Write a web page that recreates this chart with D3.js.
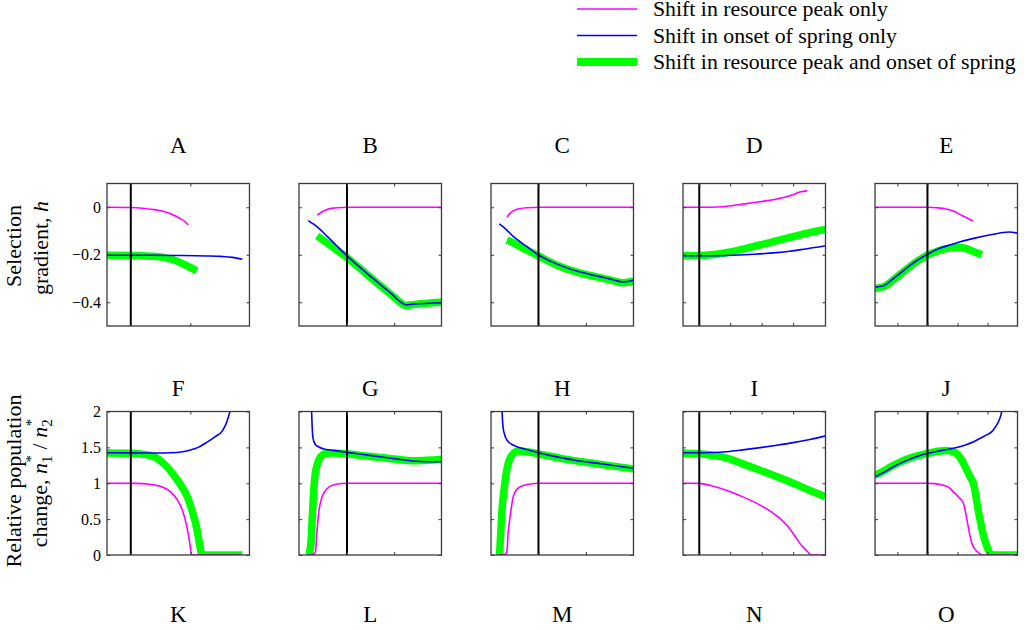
<!DOCTYPE html>
<html>
<head>
<meta charset="utf-8">
<script src="https://cdn.jsdelivr.net/npm/d3@7"></script>
<style>
  html, body { margin: 0; padding: 0; background: #fff; }
  svg { display: block; font-family: "Liberation Serif", "Times New Roman", serif; }
</style>
</head>
<body>
<svg id="chart" width="1024" height="630"></svg>
<script>
// ---------------- DATA ----------------
const titlesRow1 = ["A", "B", "C", "D", "E"];
const titlesRow2 = ["F", "G", "H", "I", "J"];
const titlesRow3 = ["K", "L", "M", "N", "O"];

const seriesNames = [
  "Shift in resource peak only",
  "Shift in onset of spring only",
  "Shift in resource peak and onset of spring"
];

// x is a normalised parameter (0..1) along each column's horizontal axis
const colXTicks = [
  [0.167, 0.585],
  [0.337, 0.668],
  [0.333, 0.666],
  [0.114, 0.331, 0.552, 0.773],
  [0.157, 0.368, 0.579, 0.79]
];
const colVLine = [0.167, 0.337, 0.333, 0.114, 0.368];

const yTicksRow1 = [-0.4, -0.2, 0];
const yTickLabelsRow1 = ["\u22120.4", "\u22120.2", "0"];
const yDomainRow1 = [-0.5, 0.1];
const yTicksRow2 = [0, 0.5, 1, 1.5, 2];
const yTickLabelsRow2 = ["0", "0.5", "1", "1.5", "2"];
const yDomainRow2 = [0, 2];

// ---- Row 1: selection gradient h ----
const peakA = [[0,0],[0.15,-0.001],[0.25,-0.004],[0.33,-0.01],[0.40,-0.018],[0.45,-0.028],[0.50,-0.043],[0.55,-0.062],[0.57,-0.075]];
const onsetA = [[0,-0.202],[0.3,-0.202],[0.5,-0.203],[0.7,-0.205],[0.8,-0.207],[0.88,-0.211],[0.95,-0.219]];
const bothA = [[0,-0.202],[0.2,-0.203],[0.3,-0.206],[0.4,-0.212],[0.47,-0.222],[0.53,-0.237],[0.58,-0.252],[0.63,-0.268]];

const peakB = [[0.128,-0.033],[0.16,-0.02],[0.2,-0.008],[0.25,-0.003],[0.3,-0.001],[0.4,0],[1,0]];
const onsetB = [[0.065,-0.056],[0.1,-0.07],[0.128,-0.083],[0.2,-0.124],[0.337,-0.205],[0.5,-0.29],[0.65,-0.365],[0.72,-0.402],[0.75,-0.411],[0.8,-0.408],[1,-0.402]];
const bothB = [[0.128,-0.12],[0.2,-0.152],[0.337,-0.212],[0.5,-0.295],[0.65,-0.37],[0.72,-0.405],[0.75,-0.414],[0.8,-0.41],[1,-0.4]];

const peakC = [[0.112,-0.042],[0.13,-0.028],[0.158,-0.014],[0.2,-0.006],[0.25,-0.002],[0.35,0],[1,0]];
const onsetC = [[0.058,-0.07],[0.1,-0.09],[0.158,-0.124],[0.25,-0.165],[0.333,-0.201],[0.42,-0.228],[0.508,-0.25],[0.62,-0.272],[0.74,-0.289],[0.85,-0.304],[0.927,-0.315],[0.96,-0.313],[1,-0.306]];
const bothC = [[0.112,-0.138],[0.15,-0.148],[0.2,-0.165],[0.25,-0.18],[0.333,-0.205],[0.42,-0.232],[0.508,-0.255],[0.62,-0.276],[0.74,-0.293],[0.85,-0.308],[0.927,-0.318],[0.96,-0.316],[1,-0.31]];

const peakD = [[0,0],[0.2,0],[0.28,0.002],[0.35,0.007],[0.42,0.013],[0.5,0.02],[0.58,0.027],[0.657,0.035],[0.72,0.043],[0.773,0.053],[0.82,0.064],[0.871,0.069]];
const onsetD = [[0,-0.204],[0.2,-0.204],[0.35,-0.202],[0.5,-0.198],[0.657,-0.191],[0.75,-0.185],[0.843,-0.177],[1,-0.162]];
const bothD = [[0,-0.204],[0.12,-0.203],[0.2,-0.2],[0.26,-0.196],[0.33,-0.188],[0.42,-0.176],[0.54,-0.159],[0.66,-0.141],[0.773,-0.124],[0.88,-0.108],[1,-0.093]];

const peakE = [[0,0],[0.37,0],[0.43,-0.002],[0.5,-0.007],[0.55,-0.016],[0.61,-0.035],[0.687,-0.058]];
const onsetE = [[0,-0.337],[0.06,-0.331],[0.12,-0.305],[0.176,-0.278],[0.25,-0.243],[0.3,-0.222],[0.368,-0.198],[0.45,-0.174],[0.52,-0.16],[0.6,-0.145],[0.7,-0.13],[0.83,-0.114],[0.937,-0.104],[1,-0.109]];
const bothE = [[0,-0.342],[0.06,-0.335],[0.12,-0.31],[0.176,-0.283],[0.25,-0.247],[0.368,-0.202],[0.45,-0.182],[0.52,-0.172],[0.58,-0.168],[0.63,-0.172],[0.69,-0.186],[0.75,-0.2]];

// ---- Row 2: relative population change n1*/n2* ----
const peakF = [[0,1],[0.2,0.998],[0.3,0.985],[0.37,0.96],[0.44,0.89],[0.49,0.78],[0.53,0.62],[0.56,0.4],[0.58,0.18],[0.595,0],[0.95,0]];
const onsetF = [[0,1.425],[0.2,1.423],[0.35,1.422],[0.45,1.425],[0.52,1.435],[0.58,1.46],[0.64,1.5],[0.7,1.57],[0.76,1.65],[0.81,1.73],[0.84,1.85],[0.866,2.02]];
const bothF = [[0,1.42],[0.15,1.418],[0.25,1.405],[0.33,1.37],[0.4,1.27],[0.47,1.11],[0.52,0.97],[0.56,0.83],[0.6,0.6],[0.63,0.37],[0.65,0.15],[0.667,0],[0.95,0]];

const peakG = [[0.06,0],[0.1,0.01],[0.116,0.05],[0.125,0.3],[0.139,0.6],[0.16,0.8],[0.186,0.9],[0.22,0.96],[0.26,0.985],[0.337,1],[1,1]];
const onsetG = [[0.088,2.02],[0.092,1.8],[0.098,1.63],[0.115,1.54],[0.139,1.505],[0.18,1.475],[0.22,1.464],[0.337,1.43],[0.45,1.4],[0.569,1.37],[0.7,1.335],[0.8,1.31],[0.9,1.3],[1,1.3]];
const bothG = [[0.07,0],[0.085,0.2],[0.095,0.6],[0.105,0.95],[0.115,1.15],[0.128,1.26],[0.145,1.35],[0.163,1.39],[0.19,1.415],[0.22,1.42],[0.337,1.41],[0.45,1.385],[0.569,1.36],[0.7,1.33],[0.8,1.315],[0.9,1.32],[1,1.33]];

const peakH = [[0.055,0],[0.1,0.01],[0.112,0.06],[0.12,0.3],[0.135,0.55],[0.158,0.83],[0.18,0.91],[0.205,0.95],[0.24,0.975],[0.275,0.99],[0.333,1],[1,1]];
const onsetH = [[0.077,2.02],[0.08,1.9],[0.084,1.79],[0.095,1.68],[0.112,1.6],[0.14,1.55],[0.182,1.51],[0.25,1.47],[0.333,1.426],[0.42,1.385],[0.508,1.35],[0.62,1.31],[0.741,1.28],[0.87,1.245],[1,1.21]];
const bothH = [[0.06,0],[0.068,0.3],[0.078,0.65],[0.088,0.85],[0.1,1.05],[0.112,1.2],[0.13,1.33],[0.147,1.39],[0.175,1.44],[0.205,1.45],[0.25,1.44],[0.333,1.41],[0.508,1.34],[0.741,1.27],[1,1.2]];

const peakI = [[0,1],[0.114,0.998],[0.2,0.965],[0.308,0.9],[0.42,0.81],[0.541,0.695],[0.62,0.6],[0.68,0.51],[0.73,0.41],[0.773,0.3],[0.81,0.19],[0.843,0.11],[0.875,0.045],[0.902,0],[1,0]];
const onsetI = [[0,1.425],[0.114,1.425],[0.2,1.428],[0.308,1.44],[0.42,1.465],[0.541,1.496],[0.66,1.53],[0.773,1.566],[0.89,1.61],[1,1.66]];
const bothI = [[0,1.418],[0.114,1.41],[0.2,1.39],[0.308,1.35],[0.42,1.27],[0.541,1.18],[0.66,1.09],[0.773,1.0],[0.89,0.9],[1,0.81]];

const peakJ = [[0,1],[0.368,1],[0.42,0.995],[0.48,0.973],[0.52,0.94],[0.55,0.88],[0.59,0.8],[0.62,0.72],[0.64,0.55],[0.66,0.33],[0.68,0.16],[0.71,0.06],[0.738,0.015],[0.76,0],[1,0]];
const onsetJ = [[0,1.09],[0.06,1.15],[0.12,1.22],[0.176,1.277],[0.26,1.35],[0.368,1.418],[0.46,1.455],[0.55,1.487],[0.63,1.53],[0.7,1.585],[0.738,1.627],[0.78,1.67],[0.82,1.72],[0.85,1.8],[0.867,1.86],[0.885,1.96],[0.892,2.02]];
const bothJ = [[0,1.11],[0.06,1.17],[0.12,1.24],[0.176,1.295],[0.26,1.36],[0.368,1.415],[0.44,1.445],[0.5,1.455],[0.55,1.44],[0.58,1.4],[0.609,1.32],[0.64,1.2],[0.67,1.08],[0.69,1.0],[0.71,0.8],[0.726,0.6],[0.745,0.42],[0.761,0.27],[0.785,0.12],[0.808,0.02],[0.82,0],[1,0]];

const row1Peak = [peakA, peakB, peakC, peakD, peakE];
const row1Onset = [onsetA, onsetB, onsetC, onsetD, onsetE];
const row1Both = [bothA, bothB, bothC, bothD, bothE];
const row2Peak = [peakF, peakG, peakH, peakI, peakJ];
const row2Onset = [onsetF, onsetG, onsetH, onsetI, onsetJ];
const row2Both = [bothF, bothG, bothH, bothI, bothJ];

// ---------------- STYLE / LAYOUT ----------------
const COL_PEAK = "#ff00ff", COL_ONSET = "#0000ff", COL_BOTH = "#00ff00";
const frameColor = "#3a3a3a";
const svg = d3.select("#chart");

const colScale = d3.scaleBand().domain(d3.range(5)).range([107, 1017.5]).paddingInner(0.258).paddingOuter(0);
const rows = [
  { top: 183.5, bottom: 326, dom: yDomainRow1, ticks: yTicksRow1, labels: yTickLabelsRow1,
    peak: row1Peak, onset: row1Onset, both: row1Both, titles: titlesRow1, titleY: 153 },
  { top: 411.5, bottom: 555, dom: yDomainRow2, ticks: yTicksRow2, labels: yTickLabelsRow2,
    peak: row2Peak, onset: row2Onset, both: row2Both, titles: titlesRow2, titleY: 396 }
];

let clipId = 0;
rows.forEach((row, r) => {
  const y = d3.scaleLinear().domain(row.dom).range([row.bottom, row.top]);
  for (let c = 0; c < 5; c++) {
    const x0 = colScale(c), w = colScale.bandwidth();
    const x = d3.scaleLinear().domain([0, 1]).range([x0, x0 + w]);
    const g = svg.append("g");
    const id = "clip" + (clipId++);
    g.append("clipPath").attr("id", id).append("rect")
      .attr("x", x0).attr("y", row.top).attr("width", w).attr("height", row.bottom - row.top);

    const line = d3.line().x(d => x(d[0])).y(d => y(d[1])).curve(d3.curveMonotoneX);
    const plot = g.append("g").attr("clip-path", `url(#${id})`);
    plot.append("path").datum(row.both[c]).attr("d", line)
      .attr("fill", "none").attr("stroke", COL_BOTH).attr("stroke-width", 7.5).attr("stroke-linejoin", "round");
    plot.append("path").datum(row.onset[c]).attr("d", line)
      .attr("fill", "none").attr("stroke", COL_ONSET).attr("stroke-width", 1.6);
    plot.append("path").datum(row.peak[c]).attr("d", line)
      .attr("fill", "none").attr("stroke", COL_PEAK).attr("stroke-width", 1.6);

    // vertical reference line
    g.append("line").attr("x1", x(colVLine[c])).attr("x2", x(colVLine[c]))
      .attr("y1", row.top).attr("y2", row.bottom).attr("stroke", "#000").attr("stroke-width", 2);

    // axes with inward ticks on all sides
    const fmt = (d) => row.labels[row.ticks.indexOf(d)];
    const left = g.append("g").attr("transform", `translate(${x0},0)`)
      .call(d3.axisLeft(y).tickValues(row.ticks).tickSize(-3).tickPadding(6).tickFormat(c === 0 ? fmt : () => ""));
    const right = g.append("g").attr("transform", `translate(${x0 + w},0)`)
      .call(d3.axisRight(y).tickValues(row.ticks).tickSize(-3).tickFormat(() => ""));
    const top = g.append("g").attr("transform", `translate(0,${row.top})`)
      .call(d3.axisTop(x).tickValues(colXTicks[c]).tickSize(-3).tickFormat(() => ""));
    const bottom = g.append("g").attr("transform", `translate(0,${row.bottom})`)
      .call(d3.axisBottom(x).tickValues(colXTicks[c]).tickSize(-3).tickFormat(() => ""));
    [left, right, top, bottom].forEach(a => {
      a.select(".domain").remove();
      a.selectAll(".tick line").attr("stroke", frameColor).attr("stroke-width", 1);
      a.selectAll("text").attr("font-family", "Liberation Serif").attr("font-size", 16).attr("fill", "#000");
    });

    g.append("rect").attr("x", x0).attr("y", row.top).attr("width", w).attr("height", row.bottom - row.top)
      .attr("fill", "none").attr("stroke", frameColor).attr("stroke-width", 1.3);

    // panel title
    svg.append("text").attr("x", x0 + w / 2).attr("y", row.titleY).attr("text-anchor", "middle")
      .attr("font-size", 23).text(row.titles[c]);
  }
});

// third row of titles (no panels drawn)
titlesRow3.forEach((t, c) => {
  svg.append("text").attr("x", colScale(c) + colScale.bandwidth() / 2).attr("y", 622)
    .attr("text-anchor", "middle").attr("font-size", 23).text(t);
});

// y-axis labels
const yl1 = svg.append("text").attr("transform", "translate(21,246) rotate(-90)")
  .attr("text-anchor", "middle").attr("font-size", 22);
yl1.append("tspan").attr("x", 0).attr("y", 0).text("Selection");
const yl1b = svg.append("text").attr("transform", "translate(47.5,248) rotate(-90)")
  .attr("text-anchor", "middle").attr("font-size", 22);
yl1b.append("tspan").text("gradient, ");
yl1b.append("tspan").attr("font-style", "italic").text("h");

svg.append("text").attr("transform", "translate(21,481) rotate(-90)")
  .attr("text-anchor", "middle").attr("font-size", 22).text("Relative population");
const yl2b = svg.append("text").attr("transform", "translate(46.5,483) rotate(-90)")
  .attr("text-anchor", "middle").attr("font-size", 22);
yl2b.append("tspan").text("change, ");
yl2b.append("tspan").attr("font-style", "italic").text("n");
yl2b.append("tspan").attr("font-size", 15).attr("dy", 5).text("1");
yl2b.append("tspan").attr("font-size", 15).attr("dx", -7).attr("dy", -16).text("*");
yl2b.append("tspan").attr("dy", 11).text(" / ");
yl2b.append("tspan").attr("font-style", "italic").text("n");
yl2b.append("tspan").attr("font-size", 15).attr("dy", 5).text("2");
yl2b.append("tspan").attr("font-size", 15).attr("dx", -7).attr("dy", -16).text("*");

// legend
const legendY = d3.scalePoint().domain(seriesNames).range([9, 62]);
const legendColors = [COL_PEAK, COL_ONSET, COL_BOTH];
const legendWidths = [1.6, 1.6, 8];
const lg = svg.append("g");
seriesNames.forEach((name, i) => {
  lg.append("line").attr("x1", 577).attr("x2", 637).attr("y1", legendY(name)).attr("y2", legendY(name))
    .attr("stroke", legendColors[i]).attr("stroke-width", legendWidths[i]);
  lg.append("text").attr("x", 653).attr("y", legendY(name) + 7).attr("font-size", 21.8).text(name);
});
</script>
</body>
</html>
